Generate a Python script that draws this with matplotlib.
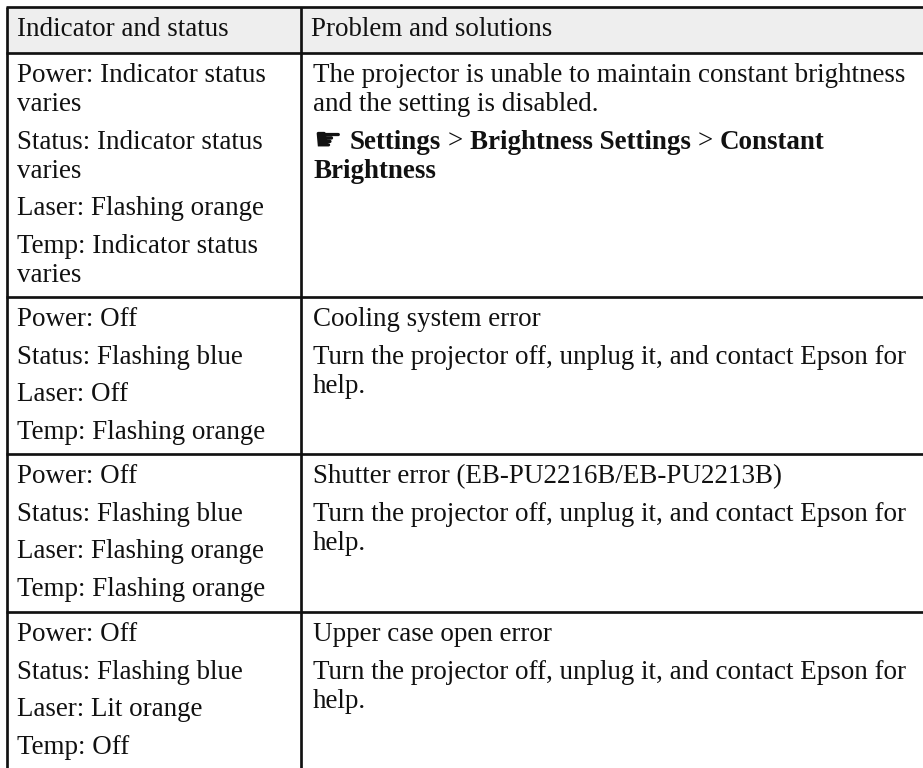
import matplotlib
matplotlib.use("Agg")
import matplotlib.pyplot as plt

# ---------------- data ----------------
headers = ["Indicator and status", "Problem and solutions"]

# left column: each row is a list of paragraphs, each paragraph a list of lines
indicator_rows = [
    [["Power: Indicator status", "varies"],
     ["Status: Indicator status", "varies"],
     ["Laser: Flashing orange"],
     ["Temp: Indicator status", "varies"]],
    [["Power: Off"], ["Status: Flashing blue"], ["Laser: Off"], ["Temp: Flashing orange"]],
    [["Power: Off"], ["Status: Flashing blue"], ["Laser: Flashing orange"], ["Temp: Flashing orange"]],
    [["Power: Off"], ["Status: Flashing blue"], ["Laser: Lit orange"], ["Temp: Off"]],
]

# right column: paragraphs; a paragraph is a list of lines; a line is a list of (text, bold) runs
problem_rows = [
    [[[("The projector is unable to maintain constant brightness", False)],
      [("and the setting is disabled.", False)]],
     [[("\u261B", "hand"), ("Settings", True), (" > ", False), ("Brightness Settings", True),
       (" > ", False), ("Constant", True)],
      [("Brightness", True)]]],
    [[[("Cooling system error", False)]],
     [[("Turn the projector off, unplug it, and contact Epson for", False)],
      [("help.", False)]]],
    [[[("Shutter error (EB-PU2216B/EB-PU2213B)", False)]],
     [[("Turn the projector off, unplug it, and contact Epson for", False)],
      [("help.", False)]]],
    [[[("Upper case open error", False)]],
     [[("Turn the projector off, unplug it, and contact Epson for", False)],
      [("help.", False)]]],
]

# ---------------- layout / style ----------------
W, H = 923, 768
TABLE_L, TABLE_T = 7, 7
COL_X = 301
HEADER_B = 53
ROW_BOTTOMS = [297, 454, 612]
TEXT_PAD_L = 10
TEXT_PAD_R = 12
FIRST_OFF = 29.3
LINE_GAP = 29
PARA_GAP = 37.5
LW = 2.7 * 72 / 100
INK = "#111111"
FAMILY = "Liberation Serif"

fig = plt.figure(figsize=(W / 100, H / 100), dpi=100)
ax = fig.add_axes([0, 0, 1, 1])
ax.set_xlim(0, W)
ax.set_ylim(H, 0)
ax.axis("off")
renderer = fig.canvas.get_renderer()


def width_of(s, size, weight="normal", family=FAMILY):
    t = ax.text(0, 0, s, fontsize=size, fontweight=weight, family=family)
    w = t.get_window_extent(renderer).width
    t.remove()
    return w


# fit font size so the long line spans the measured width
ref_w = width_of("The projector is unable to maintain constant brightness", 10)
FS = 10 * 594 / ref_w
space_w = width_of("a a", FS) - width_of("aa", FS)
space_bw = width_of("a a", FS, "bold") - width_of("aa", FS, "bold")

# header background
ax.fill_between([TABLE_L, W], TABLE_T, HEADER_B, color="#eeeeee", lw=0, zorder=0)

# grid lines
for y in [TABLE_T, HEADER_B] + ROW_BOTTOMS:
    ax.plot([TABLE_L - LW / 2, W], [y, y], color=INK, lw=LW, solid_capstyle="butt", zorder=3)
for x in [TABLE_L, COL_X]:
    ax.plot([x, x], [TABLE_T, H], color=INK, lw=LW, solid_capstyle="butt", zorder=3)

# header text
for x0, label in zip([TABLE_L, COL_X], headers):
    ax.text(x0 + TEXT_PAD_L, TABLE_T + FIRST_OFF, label, fontsize=FS, family=FAMILY,
            color=INK, va="baseline", ha="left")

row_tops = [HEADER_B] + ROW_BOTTOMS


def draw_run_line(x, y, runs):
    for text, kind in runs:
        if kind == "hand":
            t = ax.text(x, y + 1, text, fontsize=FS * 1.18, family="DejaVu Sans", color=INK,
                        va="baseline", ha="left")
            x += t.get_window_extent(renderer).width + 8
            continue
        weight = "bold" if kind else "normal"
        sw = space_bw if kind else space_w
        core = text.strip()
        lead = len(text) - len(text.lstrip(" "))
        trail = len(text) - len(text.rstrip(" "))
        x += lead * sw
        t = ax.text(x, y, core, fontsize=FS, fontweight=weight, family=FAMILY, color=INK,
                    va="baseline", ha="left")
        x += t.get_window_extent(renderer).width + trail * sw


# left column
for top, paras in zip(row_tops, indicator_rows):
    y = top + FIRST_OFF
    for pi, para in enumerate(paras):
        if pi > 0:
            y += PARA_GAP
        for li, line in enumerate(para):
            if li > 0:
                y += LINE_GAP
            ax.text(TABLE_L + TEXT_PAD_L, y, line, fontsize=FS, family=FAMILY, color=INK,
                    va="baseline", ha="left")

# right column
for top, paras in zip(row_tops, problem_rows):
    y = top + FIRST_OFF
    for pi, para in enumerate(paras):
        if pi > 0:
            y += PARA_GAP
        for li, line in enumerate(para):
            if li > 0:
                y += LINE_GAP
            draw_run_line(COL_X + TEXT_PAD_R, y, line)

fig.savefig("out.png", dpi=100, facecolor="white")
